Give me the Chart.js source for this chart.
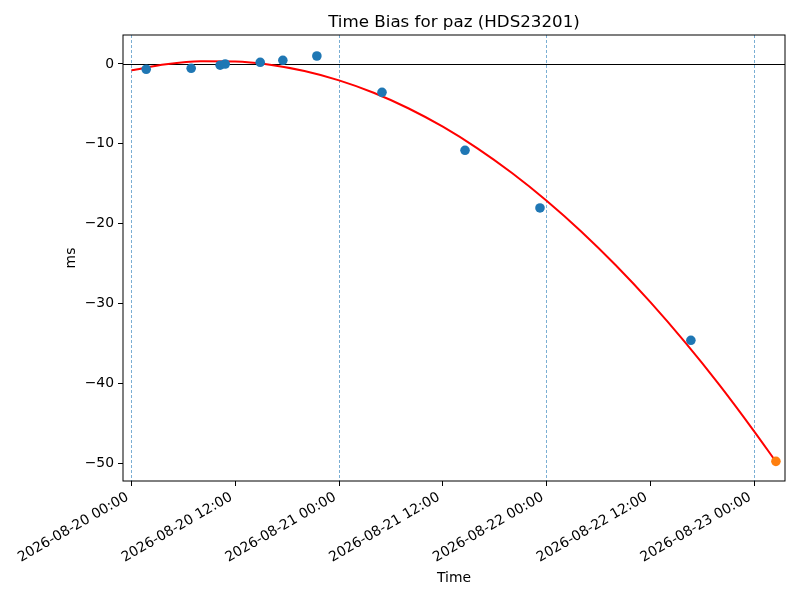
<!DOCTYPE html>
<html><head><meta charset="utf-8">
<script src="https://cdn.jsdelivr.net/npm/chart.js@4.4.0/dist/chart.umd.min.js"></script>
<style>html,body{margin:0;padding:0;background:#fff}canvas{display:block}</style>
</head><body>
<canvas id="c" width="800" height="600"></canvas>
<script>
const chartTitle = "Time Bias for paz (HDS23201)";
const xTitle = "Time";
const yTitle = "ms";

const measTimes = ["2026-08-20 01:42","2026-08-20 06:54","2026-08-20 10:15","2026-08-20 10:50",
  "2026-08-20 14:53","2026-08-20 17:30","2026-08-20 21:26","2026-08-21 04:58",
  "2026-08-21 14:34","2026-08-21 23:14","2026-08-22 16:41"];
const measValues = [-0.66,-0.54,-0.15,0.00,0.21,0.46,1.00,-3.55,-10.81,-18.03,-34.60];

const latestTimes = ["2026-08-23 02:31"];
const latestValues = [-49.76];

const fitTimes = ["2026-08-20 00:00","2026-08-20 04:00","2026-08-20 08:00","2026-08-20 12:00",
  "2026-08-20 16:00","2026-08-20 20:00","2026-08-21 00:00","2026-08-21 04:00",
  "2026-08-21 08:00","2026-08-21 12:00","2026-08-21 16:00","2026-08-21 20:00",
  "2026-08-22 00:00","2026-08-22 04:00","2026-08-22 08:00","2026-08-22 12:00",
  "2026-08-22 16:00","2026-08-22 20:00","2026-08-23 00:00","2026-08-23 02:31"];
const fitValues = [-0.79,-0.04,0.33,0.31,-0.09,-0.88,-2.05,-3.60,-5.54,-7.85,-10.56,-13.65,
  -17.12,-20.97,-25.21,-29.83,-34.84,-40.22,-46.00,-49.80];

const xTickLabels = ["2026-08-20 00:00","2026-08-20 12:00","2026-08-21 00:00","2026-08-21 12:00",
  "2026-08-22 00:00","2026-08-22 12:00","2026-08-23 00:00"];
const yTickValues = [-50,-40,-30,-20,-10,0];
const dayLineTimes = ["2026-08-20 00:00","2026-08-21 00:00","2026-08-22 00:00","2026-08-23 00:00"];
const xRange = ["2026-08-19 23:01","2026-08-23 03:34"];
const yRange = [-52.22, 3.63];

const T0 = Date.UTC(2026,7,20);
function hrs(s){
  const [d,t] = s.split(' ');
  const [Y,M,D] = d.split('-').map(Number);
  const [h,m] = t.split(':').map(Number);
  return (Date.UTC(Y,M-1,D,h,m) - T0) / 3600000;
}
const xTickHours = xTickLabels.map(hrs);

const FONT = "'DejaVu Sans', sans-serif";

const decor = {
  id: 'decor',
  beforeDatasetsDraw(chart) {
    const ctx = chart.ctx, a = chart.chartArea;
    const xs = chart.scales.x, ys = chart.scales.y;
    ctx.save();
    ctx.beginPath(); ctx.rect(a.left, a.top, a.right - a.left, a.bottom - a.top); ctx.clip();
    ctx.strokeStyle = 'rgba(31,119,180,0.85)';
    ctx.lineWidth = 0.7;
    ctx.setLineDash([3, 2]);
    dayLineTimes.forEach(t => {
      const x = Math.floor(xs.getPixelForValue(hrs(t))) + 0.5;
      ctx.beginPath(); ctx.moveTo(x, a.top); ctx.lineTo(x, a.bottom); ctx.stroke();
    });
    ctx.setLineDash([]);
    ctx.strokeStyle = '#000';
    ctx.lineWidth = 1;
    const y0 = Math.round(ys.getPixelForValue(0)) + 0.5;
    ctx.beginPath(); ctx.moveTo(a.left, y0); ctx.lineTo(a.right, y0); ctx.stroke();
    ctx.restore();
  },
  afterDraw(chart) {
    const ctx = chart.ctx, a = chart.chartArea;
    ctx.save();
    ctx.strokeStyle = '#000';
    ctx.lineWidth = 1;
    ctx.strokeRect(a.left, a.top, a.right - a.left, a.bottom - a.top);
    ctx.fillStyle = '#000';
    ctx.textAlign = 'center';
    ctx.textBaseline = 'alphabetic';
    const cx = (a.left + a.right) / 2;
    ctx.font = "16.7px " + FONT;
    ctx.fillText(chartTitle, cx, 27);
    ctx.font = "13.9px " + FONT;
    ctx.fillText(xTitle, cx, 582);
    ctx.translate(75, (a.top + a.bottom) / 2);
    ctx.rotate(-Math.PI / 2);
    ctx.fillText(yTitle, 0, 0);
    ctx.restore();
  }
};

new Chart(document.getElementById('c'), {
  type: 'scatter',
  data: {
    datasets: [
      {
        type: 'line',
        label: 'fit',
        data: fitTimes.map((t, i) => ({x: hrs(t), y: fitValues[i]})),
        borderColor: '#ff0000',
        borderWidth: 2,
        pointRadius: 0,
        fill: false,
        cubicInterpolationMode: 'monotone',
        order: 2
      },
      {
        label: 'measurements',
        data: measTimes.map((t, i) => ({x: hrs(t), y: measValues[i]})),
        backgroundColor: '#1f77b4',
        borderWidth: 0,
        pointRadius: 4.8,
        order: 1
      },
      {
        label: 'latest',
        data: latestTimes.map((t, i) => ({x: hrs(t), y: latestValues[i]})),
        backgroundColor: '#ff7f0e',
        borderWidth: 0,
        pointRadius: 4.8,
        order: 0
      }
    ]
  },
  options: {
    responsive: false,
    animation: false,
    devicePixelRatio: 1,
    layout: { padding: { top: 35, right: 15, left: 0, bottom: 0 } },
    plugins: { legend: { display: false }, tooltip: { enabled: false }, title: { display: false } },
    scales: {
      x: {
        type: 'linear',
        min: hrs(xRange[0]),
        max: hrs(xRange[1]),
        afterBuildTicks(scale) { scale.ticks = xTickHours.map(v => ({value: v})); },
        afterFit(scale) { scale.height = 119; },
        grid: { drawOnChartArea: false, drawTicks: true, tickLength: 5, tickColor: '#000', tickWidth: 1 },
        border: { display: false },
        ticks: {
          color: '#000',
          font: { family: FONT, size: 13.9 },
          minRotation: 30, maxRotation: 30,
          padding: 3,
          labelOffset: -4,
          autoSkip: false,
          callback(v) { const i = xTickHours.indexOf(v); return i >= 0 ? xTickLabels[i] : ''; }
        }
      },
      y: {
        type: 'linear',
        min: yRange[0],
        max: yRange[1],
        afterBuildTicks(scale) { scale.ticks = yTickValues.map(v => ({value: v})); },
        afterFit(scale) { scale.width = 123; },
        grid: { drawOnChartArea: false, drawTicks: true, tickLength: 5, tickColor: '#000', tickWidth: 1 },
        border: { display: false },
        ticks: {
          color: '#000',
          font: { family: FONT, size: 13.9 },
          padding: 4,
          callback(v) { return v < 0 ? '\u2212' + Math.abs(v) : String(v); }
        }
      }
    }
  },
  plugins: [decor]
});
</script>
</body></html>
